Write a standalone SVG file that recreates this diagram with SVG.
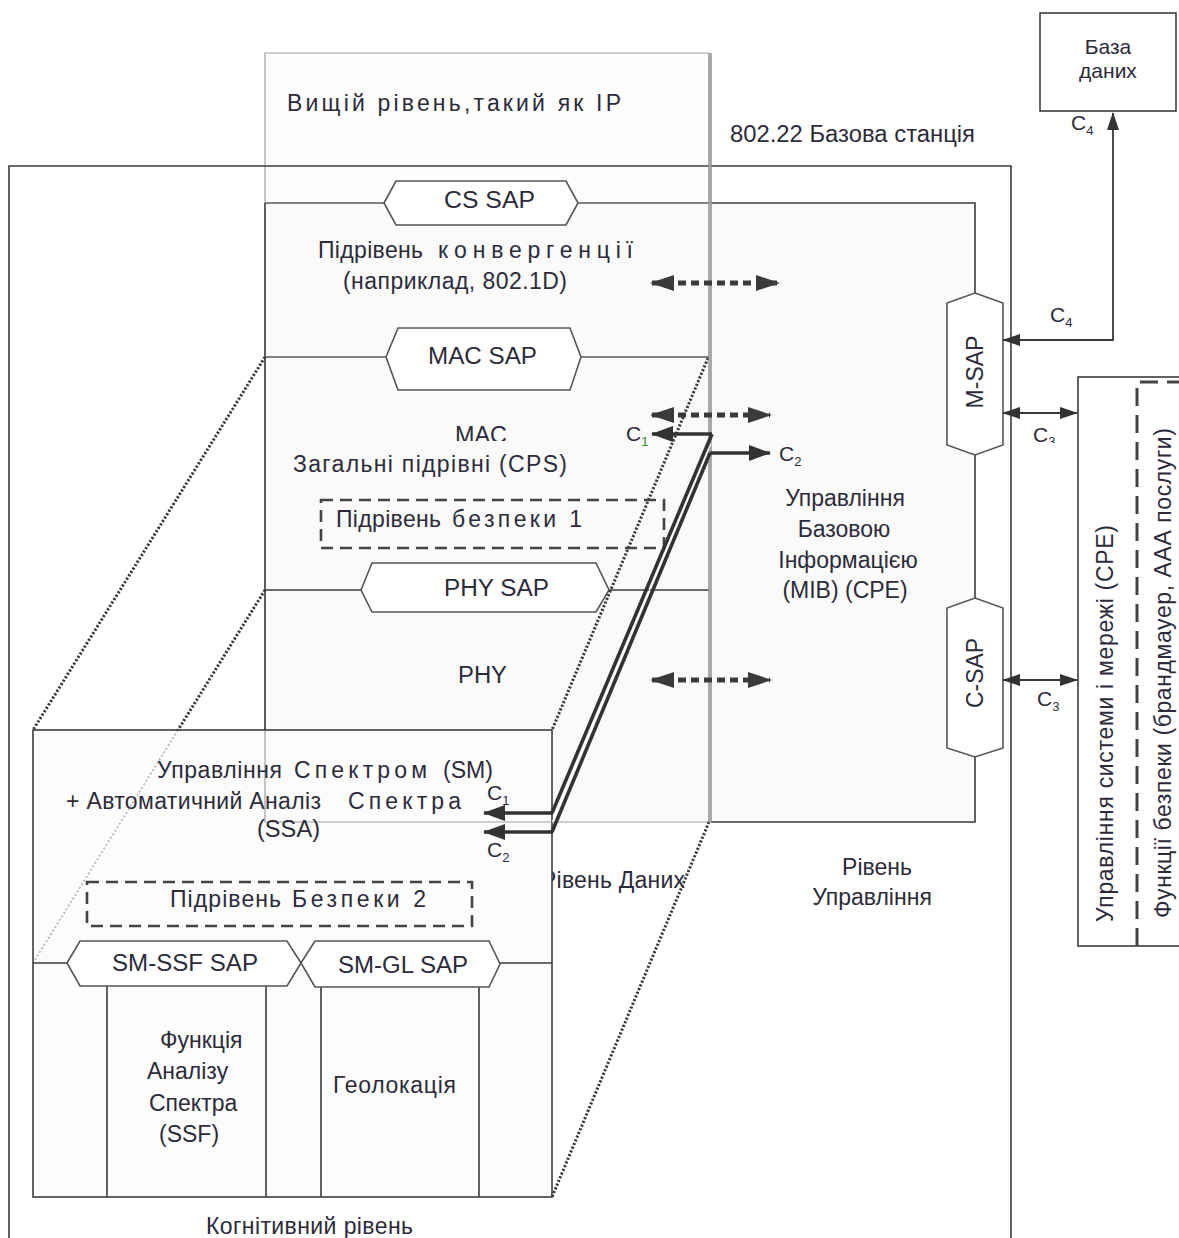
<svg xmlns="http://www.w3.org/2000/svg" width="1179" height="1238" viewBox="0 0 1179 1238">
<style>
text{font-family:"Liberation Sans",Arial,sans-serif;fill:#2d2b3a;font-size:23px}
.c{font-size:21px}
.s{font-size:13px}
.db{font-size:21px}
.ln{stroke:#3c3c3c;stroke-width:1.6;fill:none}
.lm{stroke:#5a5a5a;stroke-width:1.4;fill:none}
.lt{stroke:#a0a0a0;stroke-width:1.2;fill:none}
.hex{fill:#ffffff;stroke:#555;stroke-width:1.6}
.dot{stroke:#3a3a3a;stroke-width:3;stroke-dasharray:2.2 1.8;fill:none}
.dotl{stroke:#b0b0b0;stroke-width:1.6;stroke-dasharray:2 2.2;fill:none}
.dash{stroke:#444;stroke-width:2.6;stroke-dasharray:12 7;fill:none}
.da{stroke:#3a3a3a;stroke-width:5;stroke-dasharray:8 5;fill:none;marker-start:url(#big);marker-end:url(#big)}
.thick{stroke:#333;stroke-width:3.6;fill:none}
.ta{stroke:#333;stroke-width:3.6;fill:none;marker-end:url(#mid)}
.thin{stroke:#3a3a3a;stroke-width:1.8;fill:none}
</style>
<defs>
<marker id="big" viewBox="0 0 24 16" refX="22" refY="8" markerWidth="24" markerHeight="16" markerUnits="userSpaceOnUse" orient="auto-start-reverse"><path d="M0,0 L24,8 L0,16 z" fill="#3a3a3a"/></marker>
<marker id="mid" viewBox="0 0 22 16" refX="21" refY="8" markerWidth="22" markerHeight="16" markerUnits="userSpaceOnUse" orient="auto-start-reverse"><path d="M0,0 L22,8 L0,16 z" fill="#333"/></marker>
<marker id="sm" viewBox="0 0 18 12" refX="17" refY="6" markerWidth="18" markerHeight="12" markerUnits="userSpaceOnUse" orient="auto-start-reverse"><path d="M0,0 L18,6 L0,12 z" fill="#333"/></marker>
<clipPath id="clipMac"><rect x="440" y="410" width="90" height="31"/></clipPath>
<clipPath id="clipC3"><rect x="1020" y="415" width="50" height="28"/></clipPath>
</defs>
<rect width="1179" height="1238" fill="#fff"/>

<!-- upper layer -->
<g id="upper-layer">
<rect x="265" y="53" width="444" height="150" fill="#fdfdfd"/>
<path class="lt" d="M265,822 L265,53 L709,53"/>
<text x="287" y="111" textLength="334" lengthAdjust="spacing">Вищій рівень,такий як IP</text>
</g>

<!-- outer base station frame -->
<g id="base-station">
<path class="ln" d="M9,1238 L9,166 L1011,166 L1011,1238"/>
<text x="730" y="142" textLength="245" lengthAdjust="spacingAndGlyphs">802.22 Базова станція</text>
</g>

<!-- data plane box -->
<g id="data-plane">
<rect x="265" y="203" width="444" height="619" fill="#fafafa"/>
<path class="ln" d="M265,203 L265,730"/>
<path class="lm" d="M265,203 L384,203 M578,203 L709,203"/>
<path class="lm" d="M265,357 L386,357 M581,357 L709,357"/>
<path class="ln" d="M265,590 L361,590 M609,590 L714,590"/>
<text x="318" y="258" textLength="105" lengthAdjust="spacing">Підрівень</text>
<text x="438" y="258" textLength="195" lengthAdjust="spacing">конвергенції</text>
<text x="343" y="289" textLength="224" lengthAdjust="spacing">(наприклад, 802.1D)</text>
<text x="455" y="443" clip-path="url(#clipMac)" textLength="52" lengthAdjust="spacingAndGlyphs">MAC</text>
<text x="293" y="472" textLength="274" lengthAdjust="spacing">Загальні підрівні (CPS)</text>
<text x="458" y="683" textLength="49" lengthAdjust="spacingAndGlyphs">PHY</text>
<text x="541" y="888" textLength="144" lengthAdjust="spacing">Рівень Даних</text>
</g>

<g id="cs-sap">
<polygon class="hex" points="384,203 396,181 566,181 578,203 566,225 396,225"/>
<text x="444" y="208" textLength="91" lengthAdjust="spacingAndGlyphs">CS SAP</text>
</g>
<g id="mac-sap">
<polygon class="hex" points="386,357 398,328 570,328 581,357 570,390 398,390"/>
<text x="428" y="364" textLength="109" lengthAdjust="spacingAndGlyphs">MAC SAP</text>
</g>
<g id="security-1">
<rect class="dash" x="321" y="500" width="343" height="48"/>
<text x="336" y="527" textLength="105" lengthAdjust="spacing">Підрівень</text>
<text x="452" y="527" textLength="130" lengthAdjust="spacing">безпеки 1</text>
</g>
<g id="phy-sap">
<polygon class="hex" points="361,590 372,563 596,563 609,590 596,612 372,612"/>
<text x="444" y="596" textLength="105" lengthAdjust="spacingAndGlyphs">PHY SAP</text>
</g>

<!-- control plane -->
<g id="control-plane">
<rect x="711" y="203" width="264" height="619" fill="#fafafa"/>
<path class="ln" d="M709,203 L975,203 L975,293 M975,455 L975,598 M975,757 L975,822 L711,822"/>
<text x="845" y="506" text-anchor="middle">Управління</text>
<text x="844" y="537" text-anchor="middle">Базовою</text>
<text x="848" y="568" text-anchor="middle">Інформацією</text>
<text x="845" y="598" text-anchor="middle">(MIB) (CPE)</text>
<text x="877" y="875" text-anchor="middle">Рівень</text>
<text x="872" y="905" text-anchor="middle">Управління</text>
</g>
<g id="m-sap">
<polygon class="hex" points="975,293 1003,303 1003,445 975,455 947,445 947,303"/>
<text transform="translate(983,372) rotate(-90)" text-anchor="middle" textLength="73" lengthAdjust="spacingAndGlyphs">M-SAP</text>
</g>
<g id="c-sap">
<polygon class="hex" points="975,598 1003,608 1003,748 975,757 947,748 947,608"/>
<text transform="translate(983,673) rotate(-90)" text-anchor="middle" textLength="70" lengthAdjust="spacingAndGlyphs">C-SAP</text>
</g>

<!-- cognitive plane -->
<g id="cognitive-plane">
<rect x="33" y="730" width="519" height="467" fill="#fcfcfc"/>
<path class="lt" d="M265,730 L265,822 L709,822"/>
<path class="dotl" d="M178,730 L33,963"/>
<rect class="ln" x="33" y="730" width="519" height="467"/>
<path class="ln" d="M33,963 L67,963 M500,963 L552,963"/>
<path class="ln" d="M107,986 L107,1197 M266,986 L266,1197 M321,987 L321,1197 M479,987 L479,1197"/>
<text x="157" y="778" textLength="125" lengthAdjust="spacing">Управління</text>
<text x="294" y="778" textLength="133" lengthAdjust="spacing">Спектром</text>
<text x="443" y="778" textLength="50" lengthAdjust="spacingAndGlyphs">(SM)</text>
<text x="66" y="809" textLength="255" lengthAdjust="spacing">+ Автоматичний Аналіз</text>
<text x="348" y="809" textLength="113" lengthAdjust="spacing">Спектра</text>
<text x="257" y="837" textLength="63" lengthAdjust="spacingAndGlyphs">(SSA)</text>
<text x="160" y="1048">Функція</text>
<text x="147" y="1079">Аналізу</text>
<text x="149" y="1111">Спектра</text>
<text x="159" y="1142">(SSF)</text>
<text x="333" y="1093" textLength="123" lengthAdjust="spacing">Геолокація</text>
<text x="206" y="1234" textLength="207" lengthAdjust="spacing">Когнітивний рівень</text>
</g>
<g id="security-2">
<rect class="dash" x="87" y="882" width="385" height="44"/>
<text x="170" y="907" textLength="111" lengthAdjust="spacing">Підрівень</text>
<text x="292" y="907" textLength="134" lengthAdjust="spacing">Безпеки 2</text>
</g>
<g id="sm-ssf-sap">
<polygon class="hex" points="67,963 80,941 287,941 301,963 287,986 80,986"/>
<text x="112" y="971" textLength="146" lengthAdjust="spacingAndGlyphs">SM-SSF SAP</text>
</g>
<g id="sm-gl-sap">
<polygon class="hex" points="301,963 315,941 489,941 500,964 489,987 315,987"/>
<text x="338" y="973" textLength="130" lengthAdjust="spacingAndGlyphs">SM-GL SAP</text>
</g>

<!-- external boxes -->
<g id="database">
<rect class="ln" x="1040" y="13" width="136" height="98" fill="#fff"/>
<text class="db" x="1108" y="54" text-anchor="middle">База</text>
<text class="db" x="1108" y="78" text-anchor="middle">даних</text>
</g>
<g id="nms">
<rect class="ln" x="1078" y="377" width="130" height="569" fill="#fff"/>
<path d="M1137,946 L1137,382 L1179,382" stroke="#444" stroke-width="3" stroke-dasharray="18 9" fill="none"/>
<text transform="translate(1113,922) rotate(-90)" textLength="397" lengthAdjust="spacing">Управління системи і мережі  (CPE)</text>
<text transform="translate(1171,918) rotate(-90)" textLength="490" lengthAdjust="spacing">Функції безпеки (брандмауер, ААА послуги)</text>
</g>

<!-- perspective guides and plane divider -->
<g id="guides">
<path class="dot" d="M265,357 L33,730"/>
<path class="dot" d="M265,590 L178,730"/>
<path class="dot" d="M708,358 L552,730"/>
<path class="dot" d="M709,822 L552,1197"/>
<path d="M710,53 L710,822" stroke="#8a8a8a" stroke-width="3.4" fill="none"/>
<path d="M710,53 L710,822" stroke="#d0d0d0" stroke-width="0.8" fill="none"/>
</g>

<!-- connectors -->
<g id="connectors">
<path class="da" d="M652,283 L778,283"/>
<path class="da" d="M652,415 L770,415"/>
<path class="da" d="M652,680 L770,680"/>
<path class="thick" d="M552,813 L712,434"/>
<path class="thick" d="M552,832 L710,453"/>
<path d="M552,822.5 L711,443.5" stroke="#fff" stroke-width="1" fill="none"/>
<path class="ta" d="M712,434 L652,434"/>
<path class="ta" d="M710,453 L770,453"/>
<path class="ta" d="M553,813 L484,813"/>
<path class="ta" d="M553,832 L484,832"/>
<path class="thin" d="M1003,340 L1113,340 L1113,113" marker-start="url(#sm)" marker-end="url(#sm)"/>
<path class="thin" d="M1003,413 L1077,413" marker-start="url(#sm)" marker-end="url(#sm)"/>
<path class="thin" d="M1003,680 L1077,680" marker-start="url(#sm)" marker-end="url(#sm)"/>
<text class="c" x="626" y="441">C<tspan class="s" dy="5" fill="#2e8b2e">1</tspan></text>
<text class="c" x="779" y="461">C<tspan class="s" dy="5">2</tspan></text>
<text class="c" x="487" y="800">C<tspan class="s" dy="5">1</tspan></text>
<text class="c" x="487" y="857">C<tspan class="s" dy="5">2</tspan></text>
<text class="c" x="1050" y="322">C<tspan class="s" dy="5">4</tspan></text>
<text class="c" x="1071" y="130">C<tspan class="s" dy="5">4</tspan></text>
<text class="c" x="1033" y="442" clip-path="url(#clipC3)">C<tspan class="s" dy="4">3</tspan></text>
<text class="c" x="1037" y="706">C<tspan class="s" dy="5">3</tspan></text>
</g>
</svg>
